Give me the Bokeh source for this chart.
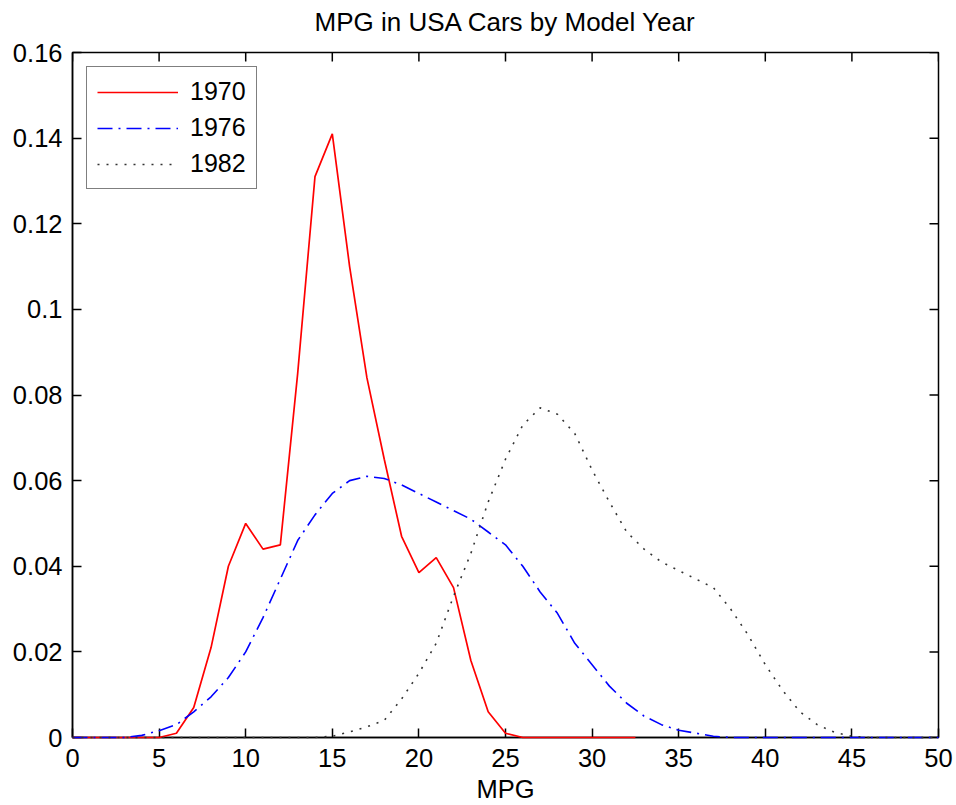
from bokeh.plotting import figure
from bokeh.models import Range1d, FixedTicker, NumeralTickFormatter, Legend, LegendItem
from bokeh.embed import file_html
from bokeh.resources import INLINE

# ---- data ----
x_1970 = [0, 1, 2, 3, 4, 5, 6, 7, 8, 9, 10, 11, 12, 13, 14, 15, 16, 17, 18, 19, 20,
          21, 22, 23, 24, 25, 26, 27, 28, 29, 30, 31, 32, 32.5]
y_1970 = [0, 0, 0, 0, 0, 0, 0.001, 0.007, 0.021, 0.040, 0.050, 0.044, 0.045, 0.085,
          0.131, 0.141, 0.110, 0.084, 0.065, 0.047, 0.0385, 0.042, 0.035, 0.018, 0.006,
          0.001, 0, 0, 0, 0, 0, 0, 0, 0]

x_all = list(range(0, 51))
y_1976 = [0, 0, 0, 0, 0.0005, 0.0016, 0.003, 0.006, 0.0095, 0.014, 0.020, 0.028, 0.037,
          0.046, 0.052, 0.057, 0.060, 0.061, 0.0605, 0.059, 0.057, 0.055, 0.053, 0.051,
          0.048, 0.045, 0.040, 0.034, 0.029, 0.022, 0.017, 0.012, 0.008, 0.005, 0.003,
          0.0017, 0.001, 0.0003, 0, 0, 0, 0, 0, 0, 0, 0, 0, 0, 0, 0, 0]
y_1982 = [0, 0, 0, 0, 0, 0, 0, 0, 0, 0, 0, 0, 0, 0, 0, 0.0003, 0.0013, 0.0025, 0.004,
          0.009, 0.015, 0.022, 0.033, 0.043, 0.055, 0.065, 0.073, 0.077, 0.0755, 0.071,
          0.0625, 0.055, 0.048, 0.044, 0.041, 0.039, 0.037, 0.035, 0.030, 0.024, 0.017,
          0.011, 0.006, 0.003, 0.0012, 0.0003, 0, 0, 0, 0, 0]

series_names = ["1970", "1976", "1982"]
x_ticks = [0, 5, 10, 15, 20, 25, 30, 35, 40, 45, 50]
y_ticks = [0, 0.02, 0.04, 0.06, 0.08, 0.1, 0.12, 0.14, 0.16]
title_text = "MPG in USA Cars by Model Year"
x_label = "MPG"

FONT = "Liberation Sans"
FS = "25.5px"
X0, X1 = 0, 50
Y0, Y1 = 0, 0.16

W, H = 956, 805
BL, BR, BT, BB = 72, 18, 52, 68
p = figure(width=W, height=H, x_range=Range1d(X0, X1), y_range=Range1d(Y0, Y1),
           output_backend="svg", toolbar_location=None,
           min_border_left=BL, min_border_right=BR, min_border_top=BT, min_border_bottom=BB,
           title=title_text + "\n")
p.title.align = "center"
p.title.text_font = FONT
p.title.text_font_size = "26px"
p.title.text_font_style = "normal"
p.title.text_color = "black"
p.title.standoff = -29

p.grid.visible = False
p.outline_line_color = "black"
p.outline_line_width = 1.5
p.background_fill_color = "white"
p.border_fill_color = "white"

p.xaxis.ticker = FixedTicker(ticks=x_ticks)
p.yaxis.ticker = FixedTicker(ticks=y_ticks)
p.yaxis.formatter = NumeralTickFormatter(format="0.[00]")
p.xaxis.axis_label = x_label
for ax in (p.xaxis, p.yaxis):
    ax.major_tick_in = 9
    ax.major_tick_out = 0
    ax.minor_tick_in = 0
    ax.minor_tick_out = 0
    ax.major_label_text_font = FONT
    ax.major_label_text_font_size = FS
    ax.major_label_text_color = "black"
    ax.axis_line_color = "black"
    ax.axis_line_width = 1.5
    ax.major_tick_line_color = "black"
    ax.major_tick_line_width = 1.5
    ax.axis_label_text_font = FONT
    ax.axis_label_text_font_size = FS
    ax.axis_label_text_font_style = "normal"
    ax.axis_label_text_color = "black"
p.xaxis.major_label_standoff = 11
p.yaxis.major_label_standoff = 10
p.xaxis.axis_label_standoff = 5

# mirrored inward ticks on the top and right edges (box axes), from the tick lists
frame_w = W - BL - BR
frame_h = H - BT - BB
tick_px = 9
dy = (Y1 - Y0) * tick_px / frame_h
dx = (X1 - X0) * tick_px / frame_w
p.segment(x0=x_ticks, y0=[Y1] * len(x_ticks), x1=x_ticks, y1=[Y1 - dy] * len(x_ticks),
          line_color="black", line_width=1.5)
p.segment(x0=[X1] * len(y_ticks), y0=y_ticks, x1=[X1 - dx] * len(y_ticks), y1=y_ticks,
          line_color="black", line_width=1.5)

r1 = p.line(x_1970, y_1970, line_color="#ff0000", line_width=1.7, level="overlay")
r2 = p.line(x_all, y_1976, line_color="#0000ff", line_width=1.6, line_dash="15 6 2 6",
            level="overlay")
r3 = p.line(x_all, y_1982, line_color="#333333", line_width=1.6, line_dash="2 7",
            level="overlay")

legend = Legend(items=[LegendItem(label=series_names[0], renderers=[r1]),
                       LegendItem(label=series_names[1], renderers=[r2]),
                       LegendItem(label=series_names[2], renderers=[r3])],
                location="top_left", margin=14, padding=10, spacing=7,
                glyph_width=81, glyph_height=26, label_height=26, label_standoff=12,
                label_text_font=FONT, label_text_font_size="25px", label_text_color="black",
                border_line_color="black", border_line_width=1.5,
                background_fill_color="white", background_fill_alpha=1)
p.add_layout(legend)

open("out.html", "w").write(file_html(p, INLINE))
